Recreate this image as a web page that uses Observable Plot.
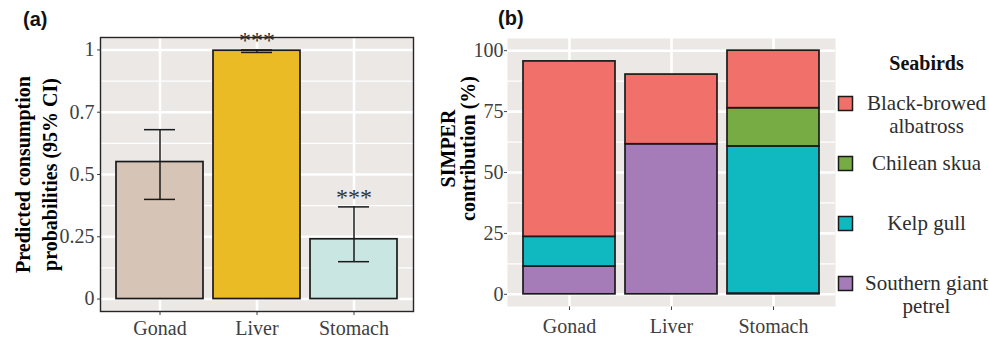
<!DOCTYPE html>
<html><head><meta charset="utf-8">
<script src="https://cdn.jsdelivr.net/npm/d3@7"></script>
<script src="https://cdn.jsdelivr.net/npm/@observablehq/plot@0.6"></script>
<style>
body{margin:0;background:#fff;}
#wrap{position:relative;width:989px;height:342px;overflow:hidden;background:#fff;}
.panel{position:absolute;top:0;}
.tag{position:absolute;font-family:"Liberation Sans",Arial,sans-serif;font-weight:bold;font-size:20px;line-height:1;color:#111;}
</style></head><body>
<div id="wrap">
  <div id="pa" class="panel" style="left:0px"></div>
  <div id="pb" class="panel" style="left:430px"></div>
  <div id="pl" class="panel" style="left:835px"></div>
  <div class="tag" style="left:23px;top:9px">(a)</div>
  <div class="tag" style="left:498px;top:8px">(b)</div>
</div>
<script>
// ---------- Panel (a) data ----------
const tissues = ["Gonad", "Liver", "Stomach"];
const consumptionProb = [0.55, 0.997, 0.24];
const ciLower = [0.40, 0.99, 0.15];
const ciUpper = [0.68, 1.0, 0.37];
const significance = ["", "***", "***"];
const tissueColors = ["#D6C5B6", "#EBBB26", "#C9E6E2"];
const probTicks = [0, 0.25, 0.5, 0.75, 1];
const probTickLabels = ["0", "0.25", "0.5", "0.7", "1"];
const probMinor = [0.125, 0.375, 0.625, 0.875];

// ---------- Panel (b) data ----------
const seabirds = ["Black-browed albatross", "Chilean skua", "Kelp gull", "Southern giant petrel"];
const seabirdLabels = ["Black-browed\nalbatross", "Chilean skua", "Kelp gull", "Southern giant\npetrel"];
const seabirdColors = ["#F1706A", "#77AB43", "#10B9BF", "#A57CB8"];
const albatross = [72.0, 28.6, 23.6];
const skua = [0, 0, 15.7];
const kelpGull = [12.2, 0, 60.4];
const giantPetrel = [11.4, 61.6, 0.3];
const stackOrder = ["Southern giant petrel", "Kelp gull", "Chilean skua", "Black-browed albatross"];
const simperTicks = [0, 25, 50, 75, 100];
const simperMinor = [12.5, 37.5, 62.5, 87.5];

const serif = "'Liberation Serif', 'Times New Roman', serif";
const panelBg = "#EBE8E6";
const ink = "#1a1a1a";

// ---------- Panel (a) ----------
const probTable = tissues.map((t, i) => ({
  tissue: t, p: consumptionProb[i], lo: ciLower[i], hi: ciUpper[i], sig: significance[i]
}));

const plotA = Plot.plot({
  width: 430, height: 342,
  marginLeft: 100, marginRight: 17, marginTop: 37, marginBottom: 31,
  style: {fontFamily: serif, fontSize: "20px", color: "#404040", background: "transparent", overflow: "visible"},
  x: {domain: tissues, paddingInner: 0.1, paddingOuter: 0.15, label: null, tickSize: 4, tickPadding: 5},
  y: {domain: [-0.05, 1.05], ticks: probTicks, tickFormat: d => probTickLabels[probTicks.indexOf(d)],
      tickSize: 3, tickPadding: 3, label: null},
  color: {domain: tissues, range: tissueColors},
  marks: [
    Plot.frame({fill: panelBg}),
    Plot.ruleY(probMinor, {stroke: "#fff", strokeWidth: 1.3}),
    Plot.ruleY(probTicks, {stroke: "#fff", strokeWidth: 2.6}),
    Plot.ruleX(tissues, {stroke: "#fff", strokeWidth: 2.6}),
    Plot.barY(probTable, {x: "tissue", y1: 0, y2: "p", fill: "tissue", stroke: ink, strokeWidth: 1.7}),
    Plot.ruleX(probTable, {x: "tissue", y1: "lo", y2: "hi", stroke: ink, strokeWidth: 1.5}),
    Plot.tickY(probTable, {x: "tissue", y: "lo", stroke: ink, strokeWidth: 1.5, insetLeft: 28, insetRight: 28}),
    Plot.tickY(probTable, {x: "tissue", y: "hi", stroke: ink, strokeWidth: 1.5, insetLeft: 28, insetRight: 28}),
    Plot.text(probTable, {x: "tissue", y: "hi", text: "sig", lineAnchor: "bottom", dy: -2, fontSize: 24, fill: "#333"}),
    Plot.frame({stroke: "#262626", strokeWidth: 1.4}),
    Plot.text(["Predicted consumption\nprobabilities (95% CI)"], {
      frameAnchor: "left", rotate: -90, dx: -66, textAnchor: "middle", lineAnchor: "middle", lineHeight: 1.35,
      fontWeight: "bold", fontSize: 20, fill: "#000"
    })
  ]
});
document.getElementById("pa").appendChild(plotA);

// ---------- Panel (b) ----------
const seriesByBird = {
  "Black-browed albatross": albatross,
  "Chilean skua": skua,
  "Kelp gull": kelpGull,
  "Southern giant petrel": giantPetrel
};
const simperTable = [];
for (const bird of stackOrder) {
  tissues.forEach((t, i) => {
    const v = seriesByBird[bird][i];
    if (v > 0) simperTable.push({tissue: t, bird, value: v});
  });
}

const plotB = Plot.plot({
  width: 410, height: 342,
  marginLeft: 77, marginRight: 5, marginTop: 38, marginBottom: 36,
  style: {fontFamily: serif, fontSize: "20px", color: "#404040", background: "transparent", overflow: "visible"},
  x: {domain: tissues, paddingInner: 0.1, paddingOuter: 0.15, label: null, tickSize: 4, tickPadding: 8},
  y: {domain: [-5, 105], ticks: simperTicks, tickSize: 3, tickPadding: 1, label: null},
  color: {domain: seabirds, range: seabirdColors},
  marks: [
    Plot.frame({fill: panelBg}),
    Plot.ruleY(simperMinor, {stroke: "#fff", strokeWidth: 1.3}),
    Plot.ruleY(simperTicks, {stroke: "#fff", strokeWidth: 2.6}),
    Plot.ruleX(tissues, {stroke: "#fff", strokeWidth: 2.6}),
    Plot.barY(simperTable, Plot.stackY({x: "tissue", y: "value", z: "bird", fill: "bird", order: stackOrder,
      stroke: ink, strokeWidth: 1.7})),
    Plot.text(["SIMPER\ncontribution (%)"], {
      frameAnchor: "left", rotate: -90, dx: -49, dy: -24, textAnchor: "middle", lineAnchor: "middle", lineHeight: 1.0,
      fontWeight: "bold", fontSize: 20, fill: "#000"
    })
  ]
});
document.getElementById("pb").appendChild(plotB);

// ---------- Legend ----------
const legendPlot = Plot.plot({
  width: 154, height: 342,
  margin: 0,
  style: {fontFamily: serif, fontSize: "20px", color: "#333", background: "transparent", overflow: "visible"},
  x: {axis: null},
  y: {type: "point", domain: seabirds, range: [102, 283], padding: 0, axis: null},
  color: {domain: seabirds, range: seabirdColors},
  marks: [
    Plot.text(["Seabirds"], {frameAnchor: "top-left", dx: 91, dy: 63, textAnchor: "middle", lineAnchor: "middle",
      fontWeight: "bold", fontSize: 20, fill: "#111"}),
    Plot.dot(seabirds, {y: d => d, frameAnchor: "left", dx: 10, symbol: "square", r: 7.9,
      fill: d => d, stroke: ink, strokeWidth: 1.5}),
    Plot.text(seabirds, {y: d => d, text: d => seabirdLabels[seabirds.indexOf(d)], frameAnchor: "left", dx: 91,
      textAnchor: "middle", lineAnchor: "top", dy: -10, lineHeight: 1.1, fontSize: 21, fill: "#2e2e2e"})
  ]
});
document.getElementById("pl").appendChild(legendPlot);
</script>
</body></html>
